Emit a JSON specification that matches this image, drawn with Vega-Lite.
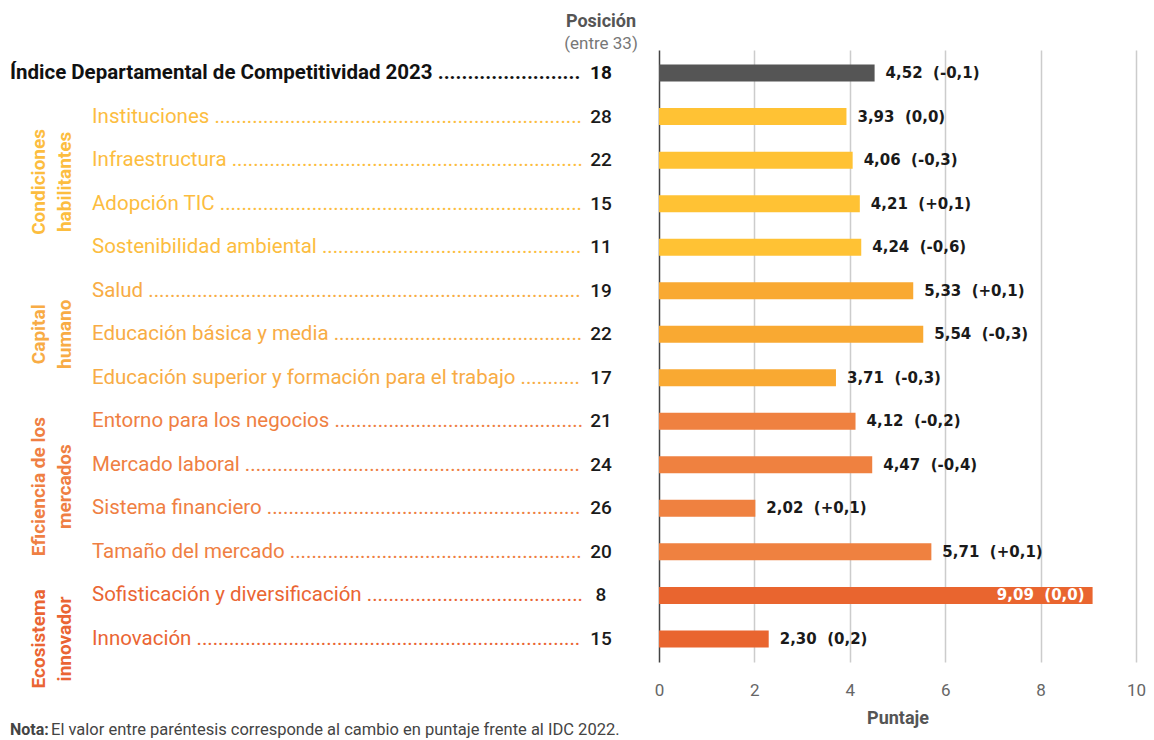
{
  "$schema": "https://vega.github.io/schema/vega-lite/v6.json",
  "width": 477,
  "height": 612,
  "autosize": {"type": "none"},
  "padding": {"left": 659, "top": 50, "right": 18, "bottom": 78},
  "background": "white",
  "config": {"view": {"stroke": null}, "font": "Roboto"},
  "title": {
    "text": "Posición",
    "subtitle": "(entre 33)",
    "anchor": "start",
    "frame": "group",
    "align": "center",
    "dx": -58,
    "offset": -2,
    "font": "Roboto",
    "fontSize": 18,
    "fontWeight": "bold",
    "color": "#555555",
    "subtitleFont": "Roboto",
    "subtitleFontSize": 17,
    "subtitleColor": "#777777",
    "subtitlePadding": 5
  },
  "datasets": {
    "rows": [
      {"name": "Índice Departamental de Competitividad 2023", "group": "IDC", "score": 4.52, "label": "4,52 \u00a0(-0,1)", "pos": 18},
      {"name": "Instituciones", "group": "Condiciones habilitantes", "score": 3.93, "label": "3,93 \u00a0(0,0)", "pos": 28},
      {"name": "Infraestructura", "group": "Condiciones habilitantes", "score": 4.06, "label": "4,06 \u00a0(-0,3)", "pos": 22},
      {"name": "Adopción TIC", "group": "Condiciones habilitantes", "score": 4.21, "label": "4,21 \u00a0(+0,1)", "pos": 15},
      {"name": "Sostenibilidad ambiental", "group": "Condiciones habilitantes", "score": 4.24, "label": "4,24 \u00a0(-0,6)", "pos": 11},
      {"name": "Salud", "group": "Capital humano", "score": 5.33, "label": "5,33 \u00a0(+0,1)", "pos": 19},
      {"name": "Educación básica y media", "group": "Capital humano", "score": 5.54, "label": "5,54 \u00a0(-0,3)", "pos": 22},
      {"name": "Educación superior y formación para el trabajo", "group": "Capital humano", "score": 3.71, "label": "3,71 \u00a0(-0,3)", "pos": 17},
      {"name": "Entorno para los negocios", "group": "Eficiencia de los mercados", "score": 4.12, "label": "4,12 \u00a0(-0,2)", "pos": 21},
      {"name": "Mercado laboral", "group": "Eficiencia de los mercados", "score": 4.47, "label": "4,47 \u00a0(-0,4)", "pos": 24},
      {"name": "Sistema financiero", "group": "Eficiencia de los mercados", "score": 2.02, "label": "2,02 \u00a0(+0,1)", "pos": 26},
      {"name": "Tamaño del mercado", "group": "Eficiencia de los mercados", "score": 5.71, "label": "5,71 \u00a0(+0,1)", "pos": 20},
      {"name": "Sofisticación y diversificación", "group": "Ecosistema innovador", "score": 9.09, "label": "9,09 \u00a0(0,0)", "pos": 8},
      {"name": "Innovación", "group": "Ecosistema innovador", "score": 2.30, "label": "2,30 \u00a0(0,2)", "pos": 15}
    ],
    "groups": [
      {"group": "Condiciones habilitantes", "text": "Condiciones\nhabilitantes", "anchor": "Infraestructura", "at": "edge"},
      {"group": "Capital humano", "text": "Capital\nhumano", "anchor": "Educación básica y media", "at": "middle"},
      {"group": "Eficiencia de los mercados", "text": "Eficiencia de los\nmercados", "anchor": "Mercado laboral", "at": "edge"},
      {"group": "Ecosistema innovador", "text": "Ecosistema\ninnovador", "anchor": "Innovación", "at": "middle"}
    ],
    "note": [
      {"bold": "Nota:", "text": "El valor entre paréntesis corresponde al cambio en puntaje frente al IDC 2022."}
    ]
  },
  "data": {"name": "rows"},
  "layer": [
    {
      "mark": {"type": "bar", "height": 17},
      "encoding": {
        "y": {
          "field": "name",
          "type": "nominal",
          "scale": {
            "domain": ["Índice Departamental de Competitividad 2023", "Instituciones", "Infraestructura", "Adopción TIC", "Sostenibilidad ambiental", "Salud", "Educación básica y media", "Educación superior y formación para el trabajo", "Entorno para los negocios", "Mercado laboral", "Sistema financiero", "Tamaño del mercado", "Sofisticación y diversificación", "Innovación"],
            "paddingInner": 0,
            "paddingOuter": 0.03
          },
          "axis": null
        },
        "x": {
          "field": "score",
          "type": "quantitative",
          "scale": {"domain": [0, 10]},
          "axis": {
            "values": [0, 2, 4, 6, 8, 10],
            "title": "Puntaje",
            "domain": false,
            "ticks": false,
            "grid": true,
            "labelFlush": false,
            "gridColor": {"condition": {"test": "datum.value === 0", "value": "#444444"}, "value": "#cccccc"},
            "gridWidth": 1.5,
            "labelFont": "Roboto",
            "labelFontSize": 17,
            "labelColor": "#666666",
            "labelPadding": 20,
            "titleFont": "Roboto",
            "titleFontSize": 18,
            "titleFontWeight": "bold",
            "titleColor": "#555555",
            "titlePadding": 11
          }
        },
        "color": {
          "field": "group",
          "type": "nominal",
          "scale": {
            "domain": ["IDC", "Condiciones habilitantes", "Capital humano", "Eficiencia de los mercados", "Ecosistema innovador"],
            "range": ["#555555", "#FFC234", "#F9A932", "#EF8140", "#E9652F"]
          },
          "legend": null
        }
      }
    },
    {
      "transform": [{"filter": "datum.score < 9"}],
      "mark": {"type": "text", "align": "left", "baseline": "middle", "dx": 11, "font": "DejaVu Sans", "fontSize": 15, "fontWeight": "bold", "color": "#1a1a1a"},
      "encoding": {
        "y": {"field": "name", "type": "nominal"},
        "x": {"field": "score", "type": "quantitative"},
        "text": {"field": "label"}
      }
    },
    {
      "transform": [{"filter": "datum.score >= 9"}],
      "mark": {"type": "text", "align": "right", "baseline": "middle", "dx": -8, "font": "DejaVu Sans", "fontSize": 15, "fontWeight": "bold", "color": "#ffffff"},
      "encoding": {
        "y": {"field": "name", "type": "nominal"},
        "x": {"field": "score", "type": "quantitative"},
        "text": {"field": "label"}
      }
    },
    {
      "transform": [{"filter": "datum.group !== 'IDC'"}],
      "mark": {"type": "text", "align": "left", "baseline": "middle", "font": "Roboto", "fontSize": 20.5, "limit": 503, "ellipsis": ".", "text": {"expr": "pad(datum.name + '   ', 240, '.')"}},
      "encoding": {
        "y": {"field": "name", "type": "nominal"},
        "x": {"value": -567},
        "color": {
          "field": "group",
          "type": "nominal",
          "scale": {
            "domain": ["Condiciones habilitantes", "Capital humano", "Eficiencia de los mercados", "Ecosistema innovador"],
            "range": ["#FCBD3F", "#F8AC45", "#EF7F43", "#EA6533"]
          },
          "legend": null
        }
      }
    },
    {
      "transform": [{"filter": "datum.group === 'IDC'"}],
      "mark": {"type": "text", "align": "left", "baseline": "middle", "font": "Roboto", "fontSize": 20.5, "fontWeight": "bold", "color": "#111111", "limit": 585, "ellipsis": ".", "text": {"expr": "pad(datum.name + '   ', 240, '.')"}},
      "encoding": {
        "y": {"field": "name", "type": "nominal"},
        "x": {"value": -649}
      }
    },
    {
      "transform": [{"filter": "datum.group !== 'IDC'"}],
      "mark": {"type": "text", "align": "center", "baseline": "middle", "font": "Roboto", "fontSize": 19, "fontWeight": 500, "color": "#1a1a1a"},
      "encoding": {
        "y": {"field": "name", "type": "nominal"},
        "x": {"value": -58},
        "text": {"field": "pos"}
      }
    },
    {
      "transform": [{"filter": "datum.group === 'IDC'"}],
      "mark": {"type": "text", "align": "center", "baseline": "middle", "font": "Roboto", "fontSize": 19, "fontWeight": "bold", "color": "#111111"},
      "encoding": {
        "y": {"field": "name", "type": "nominal"},
        "x": {"value": -58},
        "text": {"field": "pos"}
      }
    },
    {
      "data": {"name": "groups"},
      "transform": [{"filter": "datum.at === 'edge'"}],
      "mark": {"type": "text", "align": "center", "baseline": "middle", "angle": 270, "lineBreak": "\n", "lineHeight": 26, "font": "Roboto", "fontSize": 19, "fontWeight": "bold"},
      "encoding": {
        "y": {"field": "anchor", "type": "nominal", "bandPosition": 1},
        "x": {"value": -620},
        "text": {"field": "text"},
        "color": {
          "field": "group",
          "type": "nominal",
          "scale": {
            "domain": ["Condiciones habilitantes", "Capital humano", "Eficiencia de los mercados", "Ecosistema innovador"],
            "range": ["#FCBD3F", "#F8AC45", "#EF7F43", "#EA6533"]
          },
          "legend": null
        }
      }
    },
    {
      "data": {"name": "groups"},
      "transform": [{"filter": "datum.at === 'middle'"}],
      "mark": {"type": "text", "align": "center", "baseline": "middle", "angle": 270, "lineBreak": "\n", "lineHeight": 26, "font": "Roboto", "fontSize": 19, "fontWeight": "bold"},
      "encoding": {
        "y": {"field": "anchor", "type": "nominal", "bandPosition": 0.5},
        "x": {"value": -620},
        "text": {"field": "text"},
        "color": {
          "field": "group",
          "type": "nominal",
          "scale": {
            "domain": ["Condiciones habilitantes", "Capital humano", "Eficiencia de los mercados", "Ecosistema innovador"],
            "range": ["#FCBD3F", "#F8AC45", "#EF7F43", "#EA6533"]
          },
          "legend": null
        }
      }
    },
    {
      "data": {"name": "note"},
      "mark": {"type": "text", "align": "left", "baseline": "middle", "font": "Roboto", "fontSize": 16, "fontWeight": "bold", "color": "#444444"},
      "encoding": {
        "x": {"value": -649},
        "y": {"value": 680},
        "text": {"field": "bold"}
      }
    },
    {
      "data": {"name": "note"},
      "mark": {"type": "text", "align": "left", "baseline": "middle", "font": "Roboto", "fontSize": 16.5, "color": "#444444"},
      "encoding": {
        "x": {"value": -608},
        "y": {"value": 680},
        "text": {"field": "text"}
      }
    }
  ],
  "resolve": {"scale": {"color": "independent"}}
}
